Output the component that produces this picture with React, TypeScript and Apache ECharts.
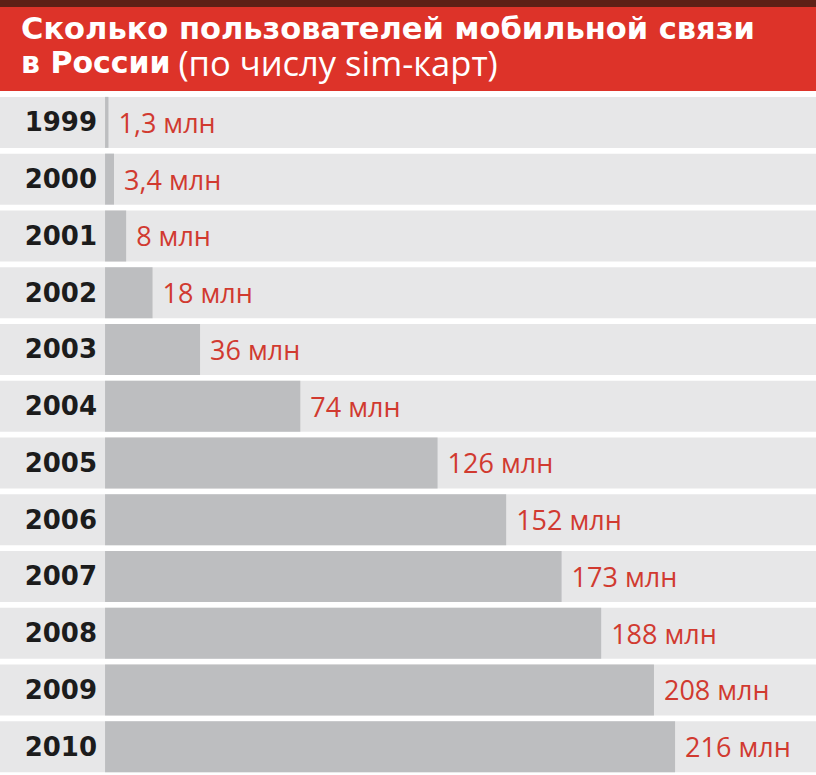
import React, { useEffect, useRef } from "react";
import * as echarts from "echarts";

const years: string[] = ["1999", "2000", "2001", "2002", "2003", "2004", "2005", "2006", "2007", "2008", "2009", "2010"];
const subscribers: number[] = [1.3, 3.4, 8, 18, 36, 74, 126, 152, 173, 188, 208, 216];
const unit = "млн";
const titleLine1 = "Сколько пользователей мобильной связи";
const titleLine2Bold = "в России";
const titleLine2Light = "(по числу sim-карт)";

export default function App() {
  const ref = useRef<HTMLDivElement>(null);
  useEffect(() => {
    if (!ref.current) return;
    const chart = echarts.init(ref.current, null, { renderer: "svg" });
    chart.setOption({
      animation: false,
      backgroundColor: "#ffffff",
      graphic: [
        { type: "rect", z: 0, shape: { x: 0, y: 0, width: 816, height: 8 }, style: { fill: "#5e2016" } },
        { type: "rect", z: 0, shape: { x: 0, y: 7, width: 816, height: 84 }, style: { fill: "#dd3329" } },
      ],
      title: [
        {
          left: 21,
          top: 13,
          padding: 0,
          z: 10,
          text: titleLine1,
          textStyle: { fontFamily: "DejaVu Sans", fontWeight: "bold", fontSize: 30.5, color: "#ffffff", lineHeight: 31 },
        },
        {
          left: 21,
          top: 44,
          padding: 0,
          z: 10,
          text: `{b|${titleLine2Bold}}{s| }{r|${titleLine2Light}}`,
          textStyle: {
            lineHeight: 36,
            rich: {
              b: { fontFamily: "DejaVu Sans", fontWeight: "bold", fontSize: 30, color: "#ffffff", lineHeight: 36 },
              s: { fontFamily: "Open Sans", fontSize: 30, color: "#ffffff", lineHeight: 36 },
              r: { fontFamily: "Open Sans", fontWeight: "normal", fontSize: 34.5, color: "#ffffff", lineHeight: 36 },
            },
          },
        },
      ],
      grid: { left: 0, right: 0, top: 94, height: 688, containLabel: false },
      xAxis: { type: "value", min: -39.8, max: 269.4, show: false },
      yAxis: {
        type: "category",
        data: years,
        inverse: true,
        z: 10,
        axisLine: { show: false },
        axisTick: { show: false },
        splitLine: { show: false },
        axisLabel: {
          inside: true,
          align: "right",
          margin: 97,
          fontFamily: "DejaVu Sans",
          fontWeight: "bold",
          fontSize: 26,
          color: "#1c1c1c",
        },
      },
      series: [
        {
          type: "bar",
          data: subscribers,
          barWidth: 51,
          showBackground: true,
          backgroundStyle: { color: "#e7e7e8" },
          itemStyle: { color: "#bdbec0" },
          label: {
            show: true,
            position: "right",
            distance: 10,
            fontFamily: "Open Sans",
            fontSize: 27,
            color: "#d13a30",
            formatter: (p: any) => `${String(p.value).replace(".", ",")} ${unit}`,
          },
        },
      ],
    });
    return () => chart.dispose();
  }, []);
  return <div ref={ref} style={{ position: "absolute", left: 0, top: 0, width: 816, height: 775 }} />;
}
